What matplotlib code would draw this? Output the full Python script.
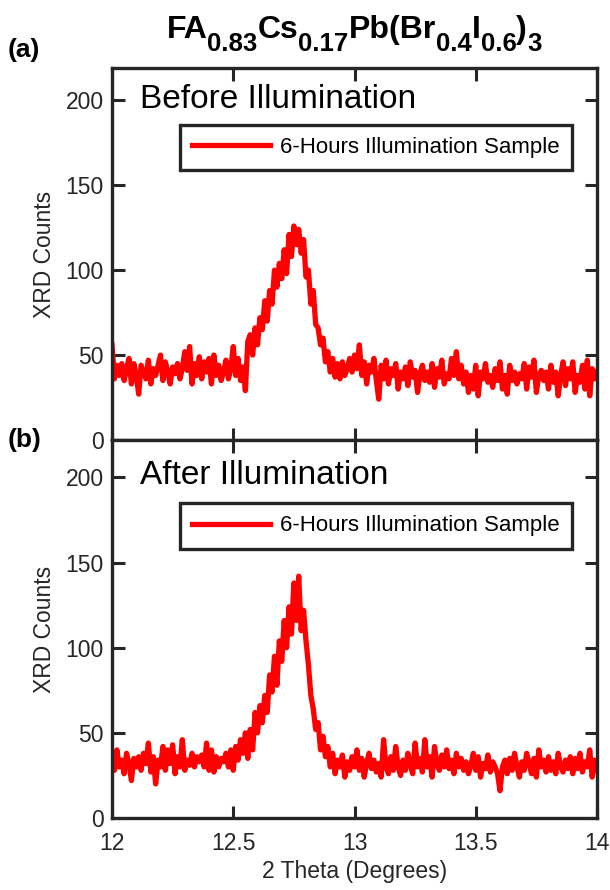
import numpy as np
import matplotlib
matplotlib.use("Agg")
import matplotlib.pyplot as plt
from matplotlib.transforms import offset_copy

plt.rcParams['font.family'] = ['Liberation Sans', 'DejaVu Sans']

# ---- data ----
two_theta = np.round(np.arange(12.00, 14.001, 0.01), 2)

counts_before = [
    56, 36, 44, 38, 45, 35, 42, 48, 33, 45,
    38, 27, 44, 40, 36, 47, 33, 42, 38, 44,
    50, 35, 46, 40, 33, 43, 39, 45, 36, 42,
    52, 41, 55, 33, 45, 38, 49, 36, 46, 40,
    48, 33, 50, 38, 44, 35, 40, 47, 36, 42,
    55, 38, 48, 35, 43, 29, 58, 62, 50, 66,
    56, 72, 65, 82, 70, 88, 80, 100, 90, 104,
    95, 112, 98, 121, 108, 126, 115, 124, 110, 118,
    96, 100, 80, 88, 68, 66, 56, 60, 46, 52,
    40, 48, 37, 45, 36, 46, 38, 42, 48, 40,
    50, 42, 56, 38, 46, 33, 44, 40, 48, 35,
    24, 44, 36, 47, 33, 42, 38, 45, 30, 40,
    36, 43, 32, 46, 37, 41, 28, 39, 44, 35,
    40, 34, 45, 31, 42, 37, 47, 33, 39, 36,
    48, 38, 52, 36, 44, 33, 40, 28, 38, 30,
    44, 26, 40, 36, 45, 34, 38, 31, 42, 35,
    46, 30, 38, 27, 44, 35, 40, 33, 39, 36,
    45, 30, 43, 37, 47, 28, 38, 41, 35, 40,
    30, 44, 34, 40, 26, 38, 46, 32, 42, 36,
    46, 28, 38, 34, 44, 30, 47, 26, 42, 36,
    40,
]

counts_after = [
    36, 28, 40, 30, 34, 26, 38, 32, 22, 35,
    30, 36, 28, 38, 32, 44, 27, 36, 20, 34,
    30, 42, 28, 40, 32, 43, 26, 36, 30, 46,
    28, 34, 31, 38, 30, 36, 33, 37, 30, 44,
    28, 40, 27, 36, 30, 35, 33, 38, 30, 40,
    28, 42, 34, 46, 38, 50, 35, 52, 40, 62,
    50, 66, 56, 72, 62, 84, 74, 95, 78, 104,
    92, 116, 100, 124, 108, 138, 116, 142, 110, 122,
    104, 90, 72, 64, 52, 56, 40, 48, 36, 42,
    30, 38, 26, 34, 30, 37, 24, 33, 28, 36,
    30, 40, 28, 35, 24, 32, 38, 29, 34, 27,
    32, 24, 46, 30, 26, 36, 28, 42, 30, 25,
    34, 28, 38, 31, 26, 44, 30, 35, 27, 46,
    30, 36, 24, 42, 32, 28, 37, 30, 40, 29,
    34, 26, 38, 30, 35, 28, 33, 26, 31, 38,
    28, 36, 24, 32, 29, 37, 27, 33, 30, 26,
    16, 30, 34, 26, 35, 28, 38, 30, 24, 33,
    28, 38, 32, 26, 35, 24, 40, 30, 34, 27,
    36, 28, 33, 26, 38, 30, 27, 34, 29, 36,
    26, 35, 29, 38, 27, 33, 30, 40, 24, 34,
    28,
]

x_ticks = [12, 12.5, 13, 13.5, 14]
x_ticklabels = ['12', '12.5', '13', '13.5', '14']
y_ticks = [0, 50, 100, 150, 200]
series_label = '6-Hours Illumination Sample'
panel_texts = ['Before Illumination', 'After Illumination']
panel_letters = ['(a)', '(b)']
title_parts = [('FA', 0), ('0.83', 1), ('Cs', 0), ('0.17', 1), ('Pb(Br', 0),
               ('0.4', 1), ('I', 0), ('0.6', 1), (')', 0), ('3', 1)]

# ---- figure ----
W, H = 610, 890
fig = plt.figure(figsize=(W / 100, H / 100), dpi=100)

def fig_rect(x0, y0, x1, y1):
    return [x0 / W, 1 - y1 / H, (x1 - x0) / W, (y1 - y0) / H]

ax_top = fig.add_axes(fig_rect(112, 68, 597, 440))
ax_bot = fig.add_axes(fig_rect(112, 440, 597, 818))

spine_col = '#262626'
for ax, y, ylim, txt, txty, legy in [
        (ax_top, counts_before, 219, panel_texts[0], 0.915, 0.847),
        (ax_bot, counts_after, 222, panel_texts[1], 0.905, 0.833)]:
    ax.plot(two_theta, y, color='#ff0000', lw=3.8, label=series_label)
    ax.set_xlim(12, 14)
    ax.set_ylim(0, ylim)
    ax.set_xticks(x_ticks)
    ax.set_yticks(y_ticks)
    ax.tick_params(direction='in', length=9, width=2.2, top=True, right=True,
                   labelsize=16.5, colors=spine_col, labelcolor='#262626', pad=6)
    ax.tick_params(axis='x', pad=10)
    for s in ax.spines.values():
        s.set_linewidth(2.4)
        s.set_color(spine_col)
    ax.set_ylabel('XRD Counts', fontsize=16.5, color='#262626', labelpad=7)
    ax.text(0.058, txty, txt, transform=ax.transAxes,
            fontsize=24, va='center', ha='left', color='black')
    leg = ax.legend(loc='upper right', bbox_to_anchor=(0.948, legy),
                    borderaxespad=0, fontsize=16, handlelength=3.5,
                    handletextpad=0.45, borderpad=0.55, fancybox=False,
                    framealpha=1)
    leg.get_frame().set_edgecolor(spine_col)
    leg.get_frame().set_linewidth(2.4)

ax_top.set_xticklabels([])
ax_bot.set_xticklabels(x_ticklabels)
ax_bot.set_xlabel('2 Theta (Degrees)', fontsize=16.5, color='#262626', labelpad=4)

# ---- title built from pieces (main + subscripts) ----
fig.canvas.draw()
renderer = fig.canvas.get_renderer()
main_fs, sub_fs, sub_drop = 23, 18.5, 13  # pt, pt, px
base_y = 1 - 38 / H
texts = []
for s, is_sub in title_parts:
    t = fig.text(0, base_y, s, fontsize=sub_fs if is_sub else main_fs,
                 fontweight='bold', ha='left', va='baseline')
    texts.append((t, is_sub))
widths = [t.get_window_extent(renderer).width for t, _ in texts]
shift = 354 - sum(widths) / 2
cur_x = 0.0
for (t, is_sub), w in zip(texts, widths):
    t.set_transform(offset_copy(fig.transFigure, fig=fig, x=shift + cur_x,
                                y=-sub_drop if is_sub else 0, units='dots'))
    cur_x += w

fig.text(8 / W, 1 - 50 / H, panel_letters[0], fontsize=19, fontweight='bold',
         ha='left', va='center')
fig.text(8 / W, 1 - 440 / H, panel_letters[1], fontsize=19, fontweight='bold',
         ha='left', va='center')

fig.savefig('out.png', dpi=100)
